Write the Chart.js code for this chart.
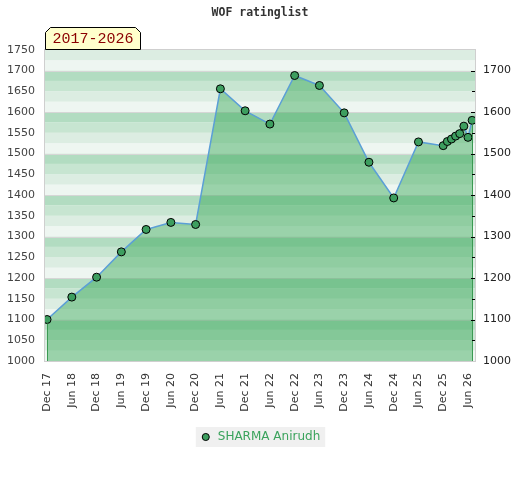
<!DOCTYPE html>
<html>
<head>
<meta charset="utf-8">
<script src="https://cdn.jsdelivr.net/npm/chart.js@4.4.1/dist/chart.umd.min.js"></script>
<style>
  html, body { margin: 0; padding: 0; background: #fff; }
  #wrap { width: 520px; height: 480px; }
</style>
</head>
<body>
<div id="wrap"><canvas id="myChart" width="520" height="480"></canvas></div>
<script>
// ***** datos *****
const chartTitle = "WOF ratinglist"
const periodLabel = "2017-2026"
const playerName = "SHARMA Anirudh"
const ratingDates = [
  "2017-12", "2018-06", "2018-12", "2019-06", "2019-12", "2020-06", "2020-12", "2021-06",
  "2021-12", "2022-06", "2022-12", "2023-06", "2023-12", "2024-06", "2024-12", "2025-06",
  "2025-12", "2026-01", "2026-02", "2026-03", "2026-04", "2026-05", "2026-06", "2026-07"
]
const ratings = [
  1100, 1154, 1202, 1263, 1317, 1334, 1329, 1656,
  1603, 1571, 1688, 1664, 1598, 1479, 1393, 1528,
  1519, 1529, 1535, 1542, 1548, 1566, 1539, 1580
]
const xTickLabels = [
  "Dec 17", "Jun 18", "Dec 18", "Jun 19", "Dec 19", "Jun 20", "Dec 20", "Jun 21", "Dec 21",
  "Jun 22", "Dec 22", "Jun 23", "Dec 23", "Jun 24", "Dec 24", "Jun 25", "Dec 25", "Jun 26"
]
const leftTicks = [1000, 1050, 1100, 1150, 1200, 1250, 1300, 1350, 1400, 1450, 1500, 1550, 1600, 1650, 1700, 1750]
const rightTicks = [1000, 1100, 1200, 1300, 1400, 1500, 1600, 1700]
// ***** fin datos *****

const monthNames = ["Jan", "Feb", "Mar", "Apr", "May", "Jun", "Jul", "Aug", "Sep", "Oct", "Nov", "Dec"]
const baseYear = parseInt(ratingDates[0].slice(0, 4), 10)
const baseMonth = parseInt(ratingDates[0].slice(5, 7), 10) - 1
// month number counted from the first rating period
const monthIndex = (year, month) => (year - baseYear) * 12 + month - baseMonth
const dateIndex = d => monthIndex(parseInt(d.slice(0, 4), 10), parseInt(d.slice(5, 7), 10) - 1)
const labelIndex = l => monthIndex(2000 + parseInt(l.slice(4), 10), monthNames.indexOf(l.slice(0, 3)))

const points = ratingDates.map((d, i) => ({ x: dateIndex(d), y: ratings[i] }))
const xTicks = xTickLabels.map(labelIndex)
const labelAt = {}
xTickLabels.forEach(l => { labelAt[labelIndex(l)] = l })

const bandColors = ["#eef6f1", "#dcede2", "#c7e5d1", "#b2dcc1"]
const bandStep = 25

// fondo a franjas + borde del grafico
const bandsPlugin = {
  id: "bands",
  beforeDatasetsDraw(chart) {
    const { ctx, chartArea: a, scales: { y } } = chart
    ctx.save()
    for (let v = y.min; v < y.max; v += bandStep) {
      const top = y.getPixelForValue(v + bandStep)
      const bot = y.getPixelForValue(v)
      ctx.fillStyle = bandColors[Math.floor((v % 100) / bandStep)]
      ctx.fillRect(a.left, top, a.right - a.left, bot - top)
    }
    ctx.strokeStyle = "#d6d6d6"
    ctx.lineWidth = 1
    rightTicks.forEach(v => {
      const py = Math.round(y.getPixelForValue(v)) + 0.5
      ctx.beginPath()
      ctx.moveTo(a.left, py)
      ctx.lineTo(a.right, py)
      ctx.stroke()
    })
    ctx.restore()
  },
  afterDatasetsDraw(chart) {
    const { ctx, chartArea: a, scales: { y } } = chart
    const meta = chart.getDatasetMeta(0)
    ctx.save()
    // lineas verticales en los extremos del area
    ctx.strokeStyle = "#3a9a52"
    ctx.lineWidth = 1
    ;[meta.data[0], meta.data[meta.data.length - 1]].forEach(p => {
      const px = Math.round(p.x) + 0.5
      ctx.beginPath()
      ctx.moveTo(px, p.y + 4)
      ctx.lineTo(px, a.bottom)
      ctx.stroke()
    })
    // marcas del eje derecho hacia dentro
    ctx.strokeStyle = "#000"
    leftTicks.forEach(v => {
      if (v === y.min || v === y.max) return
      const len = v % 100 === 0 ? 4 : 3
      const py = Math.round(y.getPixelForValue(v)) + 0.5
      ctx.beginPath()
      ctx.moveTo(a.right - len, py)
      ctx.lineTo(a.right, py)
      ctx.stroke()
    })
    ctx.strokeStyle = "#cfcfcf"
    ctx.strokeRect(a.left - 0.5, Math.round(a.top) - 0.5, a.right - a.left + 1, a.bottom - Math.round(a.top) + 1)
    ctx.restore()
  },
  afterDraw(chart) {
    const { ctx, chartArea: a } = chart
    // etiqueta amarilla del periodo
    const l = Math.round(a.left) + 0.5
    const b = Math.round(a.top) - 0.5
    const w = 95, h = 22, c = 5
    ctx.save()
    ctx.beginPath()
    ctx.moveTo(l, b)
    ctx.lineTo(l, b - h + c)
    ctx.lineTo(l + c, b - h)
    ctx.lineTo(l + w - c, b - h)
    ctx.lineTo(l + w, b - h + c)
    ctx.lineTo(l + w, b)
    ctx.closePath()
    ctx.fillStyle = "#ffffcc"
    ctx.fill()
    ctx.strokeStyle = "#000"
    ctx.lineWidth = 1
    ctx.stroke()
    ctx.fillStyle = "#8b0000"
    ctx.font = "15px 'Liberation Mono'"
    ctx.textAlign = "center"
    ctx.textBaseline = "middle"
    ctx.fillText(periodLabel, l + w / 2, b - h / 2 + 1)
    ctx.restore()
  },
  beforeDraw(chart) {
    // fondo gris de la leyenda
    const lg = chart.legend
    if (!lg || !lg.legendHitBoxes || !lg.legendHitBoxes.length) return
    const hb = lg.legendHitBoxes[0]
    const { ctx } = chart
    ctx.save()
    ctx.fillStyle = "#f0f0f0"
    ctx.fillRect(hb.left - 4, hb.top + hb.height / 2 - 10, hb.width + 9, 20)
    ctx.restore()
  }
}

const plainNumber = v => String(v)

const ctx = document.getElementById("myChart").getContext("2d")
const myChart = new Chart(ctx, {
  type: "line",
  data: {
    datasets: [{
      label: playerName,
      data: points,
      borderColor: "#5b9fd6",
      borderWidth: 1.5,
      backgroundColor: "rgba(44, 162, 77, 0.43)",
      fill: "start",
      tension: 0,
      pointRadius: 4,
      pointHoverRadius: 4,
      pointBackgroundColor: "#3d9e5f",
      pointBorderColor: "#000",
      pointBorderWidth: 1
    }]
  },
  options: {
    responsive: false,
    animation: false,
    devicePixelRatio: 1,
    layout: { padding: { top: 0, left: 0, right: 0, bottom: 27 } },
    scales: {
      x: {
        type: "linear",
        min: xTicks[0] - 0.5,
        max: points[points.length - 1].x + 0.7,
        afterBuildTicks: s => { s.ticks = xTicks.map(v => ({ value: v })) },
        afterFit: s => { s.height = 60 },
        grid: { display: false, drawTicks: false },
        border: { display: false },
        ticks: {
          autoSkip: false,
          minRotation: 90,
          maxRotation: 90,
          padding: 12,
          color: "#333",
          font: { family: "'DejaVu Sans'", size: 11 },
          callback: v => labelAt[v] || ""
        }
      },
      y: {
        position: "left",
        min: leftTicks[0],
        max: leftTicks[leftTicks.length - 1],
        afterBuildTicks: s => { s.ticks = leftTicks.map(v => ({ value: v })) },
        afterFit: s => { s.width = 45 },
        grid: { display: false, drawTicks: false },
        border: { display: false },
        ticks: { padding: 10, color: "#444", font: { family: "'DejaVu Sans'", size: 11 }, callback: plainNumber }
      },
      y1: {
        position: "right",
        min: leftTicks[0],
        max: leftTicks[leftTicks.length - 1],
        afterBuildTicks: s => { s.ticks = rightTicks.map(v => ({ value: v })) },
        afterFit: s => { s.width = 45 },
        grid: { display: false, drawTicks: false },
        border: { display: false },
        ticks: { padding: 8, color: "#222", font: { family: "'DejaVu Sans'", size: 11 }, callback: plainNumber }
      }
    },
    plugins: {
      title: {
        display: true,
        text: chartTitle,
        color: "#333",
        font: { family: "'DejaVu Sans Mono'", size: 11.5, weight: "bold" },
        padding: { top: 6, bottom: 30 }
      },
      legend: {
        position: "bottom",
        labels: {
          usePointStyle: true,
          pointStyle: "circle",
          boxWidth: 16,
          boxHeight: 5,
          padding: 10,
          color: "#3aa35c",
          font: { family: "'DejaVu Sans'", size: 12 }
        }
      },
      tooltip: { enabled: false }
    }
  },
  plugins: [bandsPlugin]
})
</script>
</body>
</html>
